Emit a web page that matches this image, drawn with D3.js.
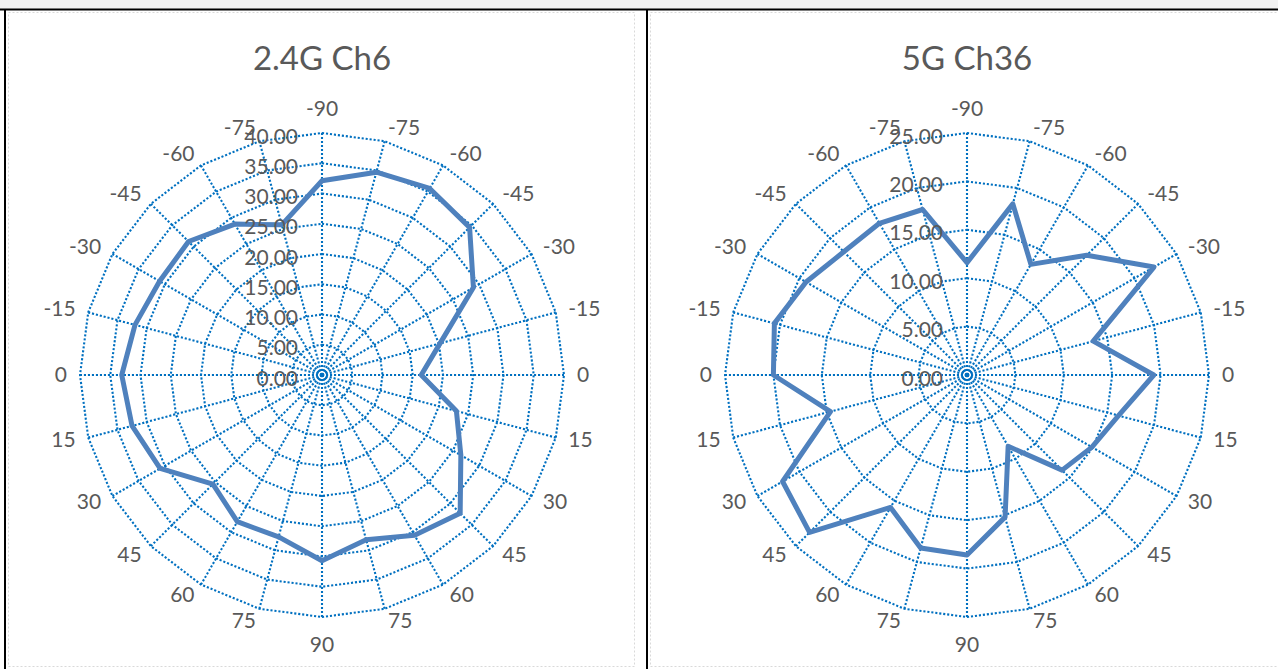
<!DOCTYPE html>
<html>
<head>
<meta charset="utf-8">
<script src="https://cdn.jsdelivr.net/npm/d3@7"></script>
<style>
  body { margin: 0; background: #fff; }
  text { font-family: Lato, "Open Sans", sans-serif; fill: #595959; }
</style>
</head>
<body>
<div id="chart"></div>
<script>
var svgWidth = 1278;
var svgHeight = 669;

// spoke labels, clockwise from the top
var categories = ["-90", "-75", "-60", "-45", "-30", "-15", "0", "15", "30", "45", "60", "75",
                  "90", "75", "60", "45", "30", "15", "0", "-15", "-30", "-45", "-60", "-75"];

var ch6Values = [32.1, 34.7, 35.6, 34.5, 28.9, 20.2, 16.4, 23.0, 26.5, 32.3, 30.6, 28.2,
                 30.7, 27.7, 28.0, 25.5, 30.9, 32.5, 33.1, 32.0, 31.0, 31.2, 28.8, 25.7];

var ch36Values = [11.6, 18.3, 13.2, 17.5, 22.3, 13.5, 19.3, 16.2, 14.9, 13.9, 8.5, 15.2,
                  18.6, 18.5, 15.8, 23.0, 22.0, 14.6, 20.0, 20.6, 19.2, 18.0, 18.1, 17.7];

var ch6Ticks = [0, 5, 10, 15, 20, 25, 30, 35, 40];
var ch36Ticks = [0, 5, 10, 15, 20, 25];

var radius = 242;
var gridColor = "#0070c0";
var lineColor = "#4f81bd";

var svg = d3.select("#chart")
  .append("svg")
  .attr("width", svgWidth)
  .attr("height", svgHeight);

// sheet frame
svg.append("rect")
  .attr("x", 0).attr("y", 0)
  .attr("width", svgWidth).attr("height", 9)
  .attr("fill", "#f2f2f2");

svg.append("line")
  .attr("x1", 0).attr("x2", svgWidth)
  .attr("y1", 9.5).attr("y2", 9.5)
  .attr("stroke", "#000").attr("stroke-width", 2);

[5, 647].forEach(function(x) {
  svg.append("line")
    .attr("x1", x).attr("x2", x)
    .attr("y1", 9).attr("y2", svgHeight)
    .attr("stroke", "#000").attr("stroke-width", 2);
});

// chart area borders
[[8.5, 626], [650.5, 700]].forEach(function(b) {
  svg.append("rect")
    .attr("x", b[0]).attr("y", 12.5)
    .attr("width", b[1]).attr("height", 654)
    .attr("fill", "none")
    .attr("stroke", "#d9d9d9")
    .attr("stroke-dasharray", "2,2");
});

var angle = d3.scaleLinear()
  .domain([0, categories.length])
  .range([0, 2 * Math.PI]);

function drawRadar(cx, cy, title, values, ticks) {
  var g = svg.append("g")
    .attr("transform", `translate(${cx}, ${cy})`);

  var r = d3.scaleLinear()
    .domain([0, d3.max(ticks)])
    .range([0, radius]);

  var idx = d3.range(categories.length);

  // rings
  var ring = d3.lineRadial()
    .angle(function(i) { return angle(i); })
    .curve(d3.curveLinearClosed);

  g.selectAll(".ring")
    .data(ticks.filter(function(t) { return t > 0; }))
    .enter()
    .append("path")
    .attr("d", function(t) { return ring.radius(r(t))(idx); })
    .attr("fill", "none")
    .attr("stroke", gridColor)
    .attr("stroke-width", 2.1)
    .attr("stroke-dasharray", "2.1,1.9");

  // spokes
  g.selectAll(".spoke")
    .data(idx)
    .enter()
    .append("line")
    .attr("x1", 0).attr("y1", 0)
    .attr("x2", function(i) { return radius * Math.sin(angle(i)); })
    .attr("y2", function(i) { return -radius * Math.cos(angle(i)); })
    .attr("stroke", gridColor)
    .attr("stroke-width", 2.1)
    .attr("stroke-dasharray", "2.1,1.9");

  // series
  var line = d3.lineRadial()
    .angle(function(d, i) { return angle(i); })
    .radius(function(d) { return r(d); })
    .curve(d3.curveLinearClosed);

  g.append("path")
    .datum(values)
    .attr("d", line)
    .attr("fill", "none")
    .attr("stroke", lineColor)
    .attr("stroke-width", 5)
    .attr("stroke-linejoin", "round");

  // value axis labels
  g.selectAll(".tick")
    .data(ticks)
    .enter()
    .append("text")
    .attr("x", -24)
    .attr("y", function(t) { return -r(t) + 2; })
    .attr("text-anchor", "end")
    .attr("dominant-baseline", "central")
    .style("font-size", "21px")
    .text(function(t) { return t.toFixed(2); });

  // category labels
  var la = radius + 13;
  g.selectAll(".cat")
    .data(categories)
    .enter()
    .append("text")
    .attr("x", function(d, i) { return la * Math.sin(angle(i)); })
    .attr("y", function(d, i) {
      var c = -Math.cos(angle(i));
      if (i === 0) return -la - 13;
      if (i === 12) return la + 13;
      return la * c - 2;
    })
    .attr("text-anchor", function(d, i) {
      if (i === 0 || i === 12) return "middle";
      return i < 12 ? "start" : "end";
    })
    .attr("dominant-baseline", "central")
    .style("font-size", "21px")
    .text(function(d) { return d; });

  svg.append("text")
    .attr("x", cx)
    .attr("y", 57)
    .attr("text-anchor", "middle")
    .attr("dominant-baseline", "central")
    .style("font-size", "33px")
    .text(title);
}

drawRadar(322, 375, "2.4G Ch6", ch6Values, ch6Ticks);
drawRadar(967, 375, "5G Ch36", ch36Values, ch36Ticks);
</script>
</body>
</html>
